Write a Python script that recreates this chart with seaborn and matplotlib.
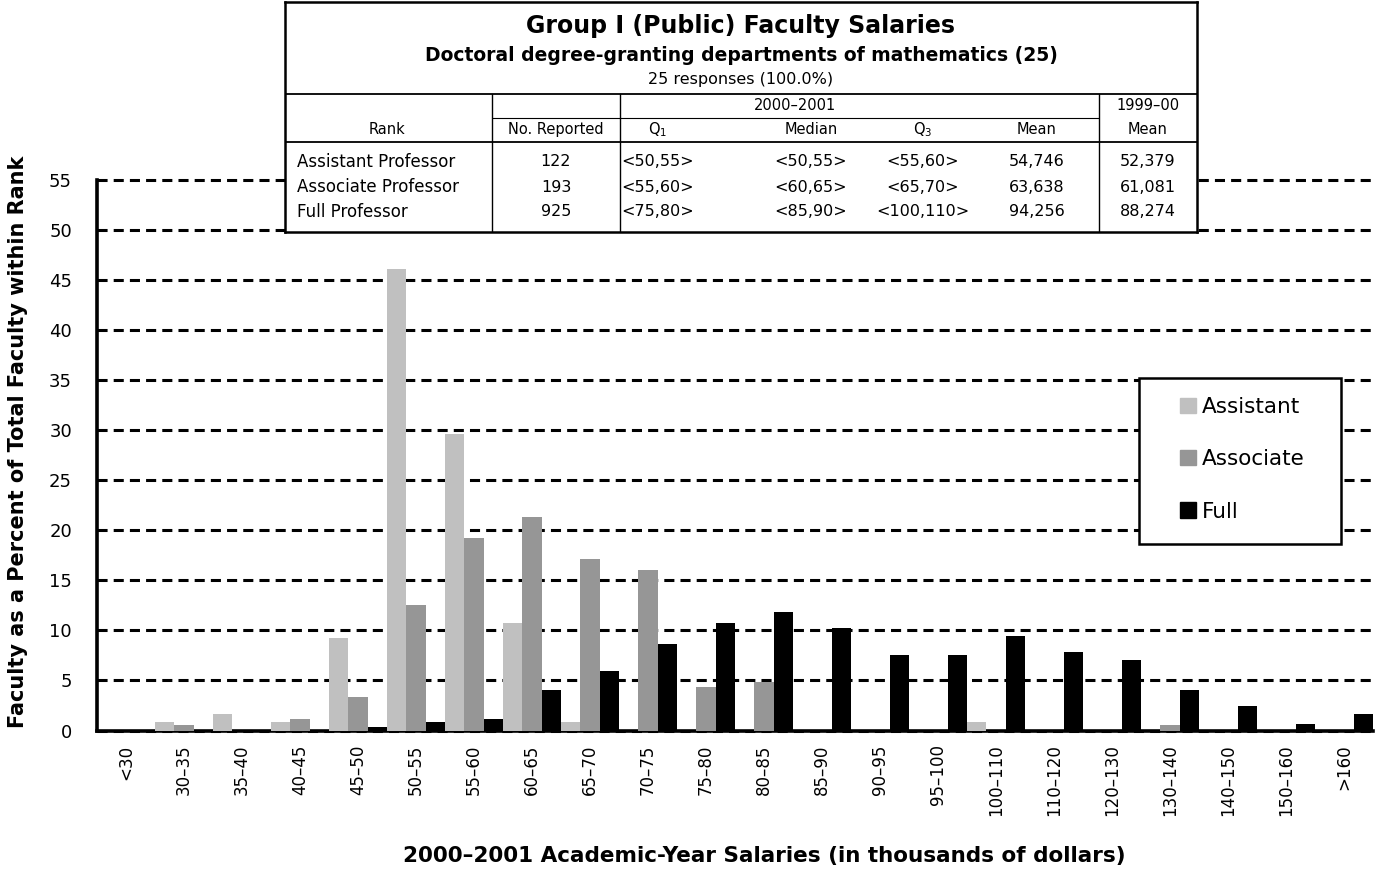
import matplotlib.pyplot as plt
import matplotlib.patches as mpatches
import seaborn as sns
import pandas as pd

# salary bins (thousands of dollars)
ranges = ['<30', '30–35', '35–40', '40–45', '45–50', '50–55', '55–60', '60–65',
          '65–70', '70–75', '75–80', '80–85', '85–90', '90–95', '95–100',
          '100–110', '110–120', '120–130', '130–140', '140–150', '150–160', '>160']

# percent of faculty within rank
assistant = [0, 0.8, 1.6, 0.8, 9.2, 46.1, 29.6, 10.7, 0.8, 0, 0, 0,
             0, 0, 0, 0.8, 0, 0, 0, 0, 0, 0]
associate = [0, 0.5, 0, 1.1, 3.3, 12.5, 19.2, 21.3, 17.1, 16.0, 4.3, 4.8,
             0, 0, 0, 0, 0, 0, 0.5, 0, 0, 0]
full = [0, 0, 0, 0, 0.3, 0.8, 1.1, 4.0, 5.9, 8.6, 10.7, 11.8,
        10.2, 7.5, 7.5, 9.4, 7.8, 7.0, 4.0, 2.4, 0.6, 1.6]

ranks = ['Assistant', 'Associate', 'Full']
colors = {'Assistant': '#c0c0c0', 'Associate': '#969696', 'Full': '#000000'}

# summary table
table_title = 'Group I (Public) Faculty Salaries'
table_subtitle = 'Doctoral degree-granting departments of mathematics (25)'
table_responses = '25 responses (100.0%)'
row_names = ['Assistant Professor', 'Associate Professor', 'Full Professor']
n_reported = ['122', '193', '925']
q1 = ['<50,55>', '<55,60>', '<75,80>']
median = ['<50,55>', '<60,65>', '<85,90>']
q3 = ['<55,60>', '<65,70>', '<100,110>']
mean_now = ['54,746', '63,638', '94,256']
mean_prev = ['52,379', '61,081', '88,274']

df = pd.DataFrame({
    'range': ranges * 3,
    'pct': assistant + associate + full,
    'rank': ['Assistant'] * len(ranges) + ['Associate'] * len(ranges) + ['Full'] * len(ranges),
})

sns.set_style('white')
plt.rcParams['font.family'] = ['DejaVu Sans']
plt.rcParams.update({'text.color': 'black', 'axes.labelcolor': 'black',
                     'xtick.color': 'black', 'ytick.color': 'black'})

fig = plt.figure(figsize=(13.86, 8.72), dpi=100)
ax = fig.add_axes([97 / 1386, 141.5 / 872, 1276 / 1386, 550.5 / 872])

sns.barplot(data=df, x='range', y='pct', hue='rank', order=ranges, hue_order=ranks,
            palette=colors, width=1.0, linewidth=0, saturation=1, ax=ax, legend=False,
            zorder=3)

ax.set_ylim(0, 55)
ax.set_xlim(-0.5, len(ranges) - 0.5)
ax.set_yticks(range(0, 56, 5))
ax.yaxis.grid(True, linestyle=(0, (3.3, 2.0)), linewidth=2.2, color='black', zorder=1)
ax.set_axisbelow(True)
for gl in ax.get_ygridlines():
    gl.set_clip_on(False)

# ticks on bin boundaries, labels on bin centres
ax.set_xticks([i - 0.5 for i in range(len(ranges) + 1)])
ax.set_xticklabels([])
ax.set_xticks(range(len(ranges)), minor=True)
ax.set_xticklabels(ranges, minor=True, rotation=90, fontsize=12)
ax.tick_params(axis='x', which='major', direction='out', length=6, width=2.2, color='black')
ax.tick_params(axis='x', which='minor', length=0, pad=10)
ax.tick_params(axis='y', direction='inout', length=8, width=2.2, color='black',
               labelsize=13, pad=14)

for s in ['top', 'right']:
    ax.spines[s].set_visible(False)
for s in ['left', 'bottom']:
    ax.spines[s].set_linewidth(2.6)
    ax.spines[s].set_color('black')

ax.set_xlabel('2000–2001 Academic-Year Salaries (in thousands of dollars)',
              fontsize=15.5, fontweight='bold')
ax.xaxis.set_label_coords(0.523, -0.21)
ax.set_ylabel('Faculty as a Percent of Total Faculty within Rank',
              fontsize=15, fontweight='bold')
ax.yaxis.set_label_coords(-0.054, 0.525)

# legend: hand-drawn frame with a frameless legend inside
ax.add_patch(mpatches.Rectangle((0.8166, 0.3388), 0.1583, 0.3015, transform=ax.transAxes,
                                facecolor='white', edgecolor='black', linewidth=1.8,
                                zorder=5))
handles = [mpatches.Patch(color=colors[r], label=r) for r in ranks]
leg = ax.legend(handles=handles, loc='upper left', bbox_to_anchor=(0.8488, 0.6058),
                borderaxespad=0, borderpad=0, fontsize=15.5, frameon=False,
                handlelength=0.72, handleheight=0.72, handletextpad=0.3,
                labelspacing=1.5)
leg.set_zorder(6)

# summary table drawn in pixel coordinates of its own box
tx = fig.add_axes([285 / 1386, (872 - 232) / 872, 912 / 1386, 230 / 872])
tx.set_xlim(285, 1197)
tx.set_ylim(232, 2)
tx.set_xticks([])
tx.set_yticks([])
tx.set_facecolor('white')
for s in tx.spines.values():
    s.set_linewidth(1.8)
    s.set_color('black')

tx.text(741, 26, table_title, ha='center', va='center', fontsize=17, fontweight='bold')
tx.text(741, 56, table_subtitle, ha='center', va='center', fontsize=13.5, fontweight='bold')
tx.text(741, 80, table_responses, ha='center', va='center', fontsize=11.5)

tx.plot([285, 1197], [94, 94], color='black', lw=1.3)
tx.plot([492, 1099], [118, 118], color='black', lw=0.8)
tx.plot([285, 1197], [142, 142], color='black', lw=1.3)
for xv in [492, 620, 1099]:
    tx.plot([xv, xv], [94, 232], color='black', lw=1.0)

tx.text(795, 106, '2000–2001', ha='center', va='center', fontsize=10.5)
tx.text(1148, 106, '1999–00', ha='center', va='center', fontsize=10.5)

col_x = [556, 658, 811, 923, 1037, 1148]
headers = ['No. Reported', 'Q$_1$', 'Median', 'Q$_3$', 'Mean', 'Mean']
tx.text(387, 130, 'Rank', ha='center', va='center', fontsize=10.5)
for xv, h in zip(col_x, headers):
    tx.text(xv, 130, h, ha='center', va='center', fontsize=10.5)

for i, name in enumerate(row_names):
    y = 162 + 25 * i
    tx.text(297, y, name, ha='left', va='center', fontsize=12)
    vals = [n_reported[i], q1[i], median[i], q3[i], mean_now[i], mean_prev[i]]
    for xv, v in zip(col_x, vals):
        tx.text(xv, y, v, ha='center', va='center', fontsize=11.5)

fig.savefig('out.png', dpi=100)
